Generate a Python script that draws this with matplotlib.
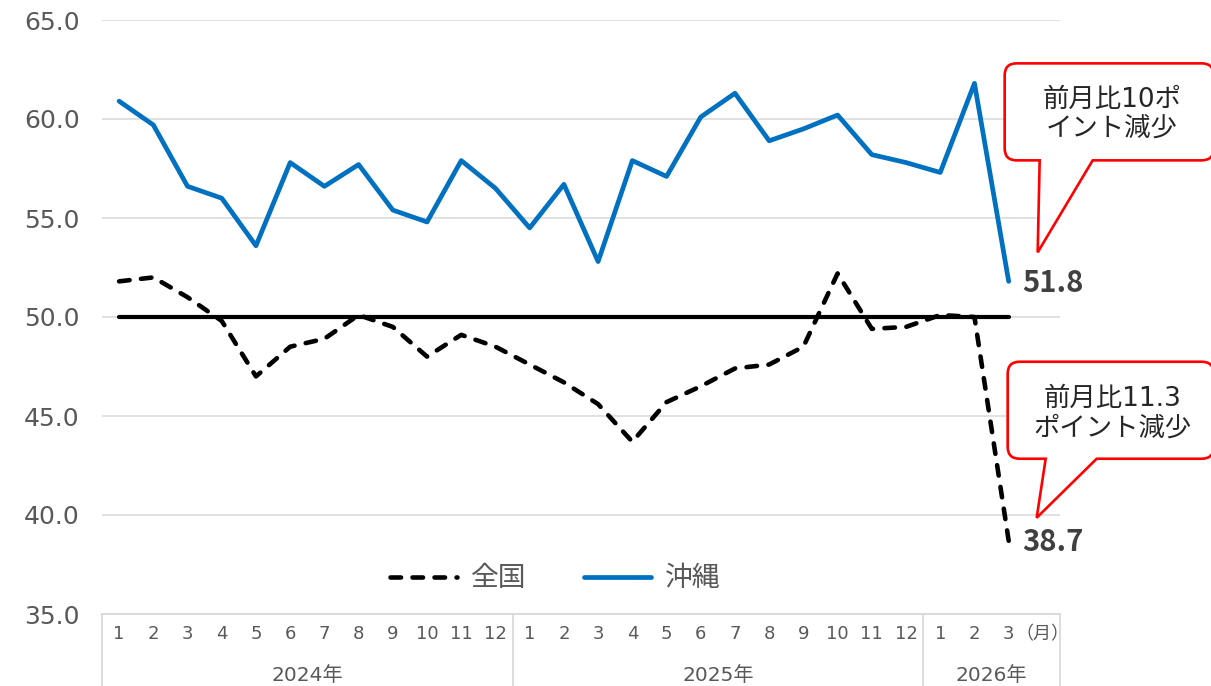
import matplotlib
matplotlib.use("Agg")
import matplotlib.pyplot as plt
from matplotlib.path import Path
from matplotlib.patches import PathPatch

plt.rcParams['font.family'] = ['DejaVu Sans', 'Noto Sans CJK JP']
CJK = ['Noto Sans CJK JP', 'DejaVu Sans']

# データ（2024年1月〜2026年3月）
month_labels = [str(m) for m in range(1, 13)] * 2 + ['1', '2', '3', '（月）']
year_labels = ['2024年', '2025年', '2026年']
year_spans = [(0, 12), (12, 24), (24, 28)]

zenkoku = [51.8, 52.0, 51.0, 49.8, 47.0, 48.5, 48.9, 50.1, 49.5, 48.0,
           49.1, 48.5, 47.6, 46.7, 45.6, 43.7, 45.7, 46.5, 47.4, 47.6,
           48.5, 52.2, 49.4, 49.5, 50.1, 50.0, 38.7]
okinawa = [60.9, 59.7, 56.6, 56.0, 53.6, 57.8, 56.6, 57.7, 55.4, 54.8,
           57.9, 56.5, 54.5, 56.7, 52.8, 57.9, 57.1, 60.1, 61.3, 58.9,
           59.5, 60.2, 58.2, 57.8, 57.3, 61.8, 51.8]
baseline = [50.0] * 27

note_okinawa = '前月比10ポ\nイント減少'
note_zenkoku = '前月比11.3\nポイント減少'

W, H = 1211, 686
fig = plt.figure(figsize=(W / 100, H / 100), dpi=100)
ax = fig.add_axes([102 / W, 72 / H, 958 / W, 594 / H])

x = list(range(len(okinawa)))
ax.plot(x, baseline, color='black', lw=3.0, solid_capstyle='round', zorder=3)
ax.plot(x, zenkoku, color='black', lw=3.3, linestyle=(0, (2.3, 2.5)),
        dash_capstyle='round', label='全国', zorder=4)
ax.plot(x, okinawa, color='#0070C0', lw=3.4, solid_capstyle='round',
        solid_joinstyle='round', label='沖縄', zorder=4)

ax.set_xlim(-0.5, len(month_labels) - 0.5)
ax.set_ylim(35, 65)
ax.set_yticks(range(35, 66, 5))
ax.set_yticklabels([f'{v:.1f}' for v in range(35, 66, 5)])
ax.tick_params(axis='y', length=0, pad=16, labelsize=18, labelcolor='#595959')
ax.set_xticks(range(len(month_labels)))
ax.set_xticklabels(month_labels)
ax.tick_params(axis='x', length=0, pad=8, labelsize=13, labelcolor='#595959')
ax.grid(axis='y', color='#D9D9D9', lw=1.1)
ax.set_axisbelow(True)
for s in ['top', 'right', 'left']:
    ax.spines[s].set_visible(False)
ax.spines['bottom'].set_color('#D9D9D9')
ax.spines['bottom'].set_linewidth(1.3)

# 年の区切りと年ラベル
tr = ax.get_xaxis_transform()
for (a, b), label in zip(year_spans, year_labels):
    ax.plot([a - 0.5, a - 0.5], [0, -0.13], color='#D9D9D9', lw=1.3,
            transform=tr, clip_on=False)
    ax.text((a + b - 1) / 2, -0.103, label, transform=tr, ha='center', va='center',
            fontsize=14.5, color='#595959')
ax.plot([year_spans[-1][1] - 0.5] * 2, [0, -0.13], color='#D9D9D9', lw=1.3,
        transform=tr, clip_on=False)

leg = ax.legend(loc='center', bbox_to_anchor=(0.473, 0.06), ncol=2, frameon=False,
                prop={'family': CJK, 'size': 20}, handlelength=2.4,
                columnspacing=2.1, handletextpad=0.5)
for t in leg.get_texts():
    t.set_color('#595959')

# 最終値ラベル
for vals in (okinawa, zenkoku):
    ax.annotate(f'{vals[-1]:.1f}', (len(vals) - 1, vals[-1]), xytext=(10, -1),
                textcoords='offset points', ha='left', va='center', family=CJK,
                fontsize=21, fontweight='bold', color='#404040')


def callout(i, val, tip, tail, left, top, bottom, text_pos, text, r=12):
    px, py = ax.transData.transform((i, val))
    L, R = px + left, px + 205
    T, B = py + top, py + bottom
    x1, x2 = px + tail[0], px + tail[1]
    verts = [(x1, B), (px + tip[0], py + tip[1]), (x2, B), (R - r, B),
             (R, B), (R, B + r), (R, T - r), (R, T), (R - r, T),
             (L + r, T), (L, T), (L, T - r), (L, B + r), (L, B), (L + r, B),
             (x1, B), (x1, B)]
    codes = [Path.MOVETO, Path.LINETO, Path.LINETO, Path.LINETO,
             Path.CURVE3, Path.CURVE3, Path.LINETO, Path.CURVE3, Path.CURVE3,
             Path.LINETO, Path.CURVE3, Path.CURVE3, Path.LINETO, Path.CURVE3, Path.CURVE3,
             Path.LINETO, Path.CLOSEPOLY]
    inv = fig.transFigure.inverted()
    verts = [tuple(inv.transform(v)) for v in verts]
    fig.add_artist(PathPatch(Path(verts, codes), facecolor='white', edgecolor='#FF0000',
                             lw=1.9, transform=fig.transFigure, zorder=5))
    tx, ty = inv.transform((px + text_pos[0], py + text_pos[1]))
    fig.text(tx, ty, text, ha='center', va='center', fontsize=19, color='#262626',
             linespacing=1.15, zorder=6)


callout(len(okinawa) - 1, okinawa[-1], tip=(29, 29), tail=(31, 84),
        left=-4, top=218, bottom=121, text_pos=(103, 167), text=note_okinawa)
callout(len(zenkoku) - 1, zenkoku[-1], tip=(28, 23), tail=(37, 88),
        left=-1, top=179, bottom=82, text_pos=(104, 127), text=note_zenkoku)

fig.savefig('out.png', dpi=100)
